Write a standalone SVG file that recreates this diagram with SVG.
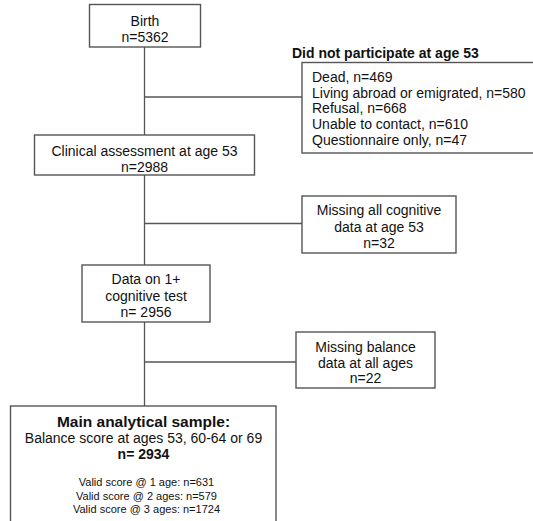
<svg xmlns="http://www.w3.org/2000/svg" width="533" height="521" viewBox="0 0 533 521">
<style>
.box{fill:#fff;stroke:#555;stroke-width:1.4}
.ln{stroke:#555;stroke-width:1.3;fill:none}
text{font-family:"Liberation Sans",Arial,sans-serif;fill:#111;font-size:14px}
.c{text-anchor:middle}
.b{font-weight:bold}
.s{font-size:11px}
</style>
<rect width="533" height="521" fill="#fff"/>
<g id="connectors">
<line class="ln" x1="144.5" y1="47" x2="144.5" y2="135"/>
<line class="ln" x1="144.5" y1="97" x2="302" y2="97"/>
<line class="ln" x1="144.5" y1="175" x2="144.5" y2="265"/>
<line class="ln" x1="144.5" y1="223.5" x2="302" y2="223.5"/>
<line class="ln" x1="144.5" y1="322" x2="144.5" y2="406"/>
<line class="ln" x1="144.5" y1="362" x2="296" y2="362"/>
</g>
<g id="birth">
<rect class="box" x="89.5" y="4.5" width="111" height="42.5"/>
<text class="c" x="145" y="26">Birth</text>
<text class="c" x="145" y="42">n=5362</text>
</g>
<g id="notparticipate">
<text class="b" x="292" y="58">Did not participate at age 53</text>
<rect class="box" x="302" y="62.5" width="240" height="90.5"/>
<text x="312" y="82">Dead, n=469</text>
<text x="312" y="97.7">Living abroad or emigrated, n=580</text>
<text x="312" y="113.4">Refusal, n=668</text>
<text x="312" y="129">Unable to contact, n=610</text>
<text x="312" y="145">Questionnaire only, n=47</text>
</g>
<g id="clinical">
<rect class="box" x="34.5" y="135" width="220" height="40"/>
<text class="c" x="144.5" y="156">Clinical assessment at age 53</text>
<text class="c" x="144.5" y="172">n=2988</text>
</g>
<g id="missingcog">
<rect class="box" x="302" y="196" width="154" height="57"/>
<text class="c" x="379" y="215">Missing all cognitive</text>
<text class="c" x="379" y="232">data at age 53</text>
<text class="c" x="379" y="248">n=32</text>
</g>
<g id="cognitive">
<rect class="box" x="82" y="265" width="128" height="57"/>
<text class="c" x="146" y="284">Data on 1+</text>
<text class="c" x="146" y="300.5">cognitive test</text>
<text class="c" x="146" y="317">n= 2956</text>
</g>
<g id="missingbal">
<rect class="box" x="296" y="332" width="139" height="56"/>
<text class="c" x="365.5" y="352">Missing balance</text>
<text class="c" x="365.5" y="367.5">data at all ages</text>
<text class="c" x="365.5" y="383">n=22</text>
</g>
<g id="main">
<rect class="box" x="10.5" y="406" width="265.5" height="120"/>
<text class="c b" x="143.5" y="427" style="font-size:15.5px">Main analytical sample:</text>
<text class="c" x="143.5" y="443">Balance score at ages 53, 60-64 or 69</text>
<text class="c b" x="143.5" y="459">n= 2934</text>
<text class="c s" x="146.5" y="486">Valid score @ 1 age: n=631</text>
<text class="c s" x="146.5" y="499.5">Valid score @ 2 ages: n=579</text>
<text class="c s" x="146.5" y="513">Valid score @ 3 ages: n=1724</text>
</g>
</svg>
